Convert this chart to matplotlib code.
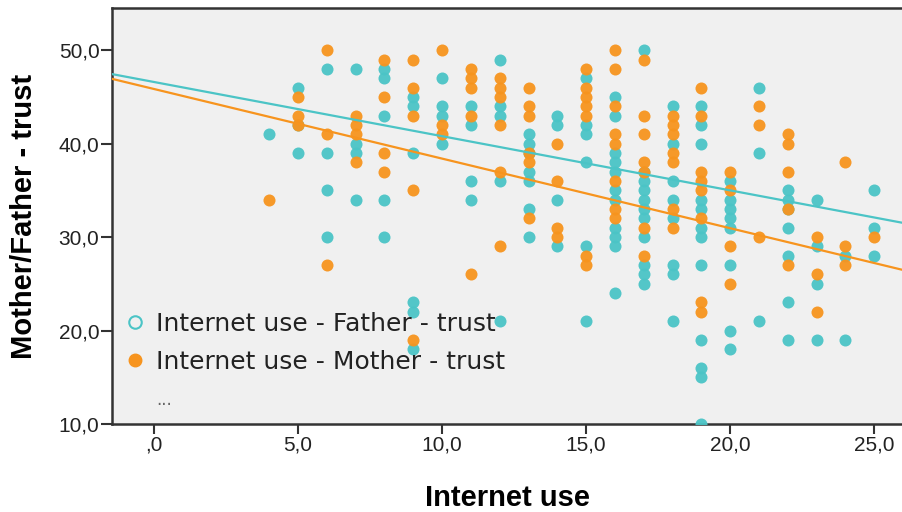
import numpy as np
import matplotlib.pyplot as plt
from matplotlib.lines import Line2D

# Internet use vs. trust in father / mother
father_use = ([4] + [5]*3 + [6]*4 + [7]*4 + [8]*5 + [9]*6 + [10]*4 + [11]*4 + [12]*5
              + [13]*7 + [14]*4 + [15]*6 + [16]*11 + [17]*11 + [18]*8 + [19]*12 + [20]*8
              + [21]*3 + [22]*7 + [23]*4 + [24]*2 + [25]*3)
father_trust = [41,
                46, 42, 39,
                48, 39, 35, 30,
                48, 40, 39, 34,
                48, 47, 43, 34, 30,
                45, 44, 39, 23, 22, 18,
                47, 44, 43, 40,
                44, 42, 36, 34,
                49, 44, 43, 36, 21,
                41, 40, 39, 37, 36, 33, 30,
                43, 42, 34, 29,
                47, 42, 41, 38, 29, 21,
                45, 43, 39, 38, 37, 35, 34, 31, 30, 29, 24,
                50, 37, 36, 35, 34, 33, 32, 30, 27, 26, 25,
                44, 40, 36, 34, 32, 27, 26, 21,
                44, 42, 40, 34, 33, 31, 30, 27, 19, 16, 15, 10,
                36, 34, 33, 32, 31, 27, 20, 18,
                46, 39, 21,
                35, 34, 33, 31, 28, 23, 19,
                34, 29, 25, 19,
                28, 19,
                35, 31, 28]

mother_use = ([4] + [5]*3 + [6]*3 + [7]*4 + [8]*4 + [9]*5 + [10]*3 + [11]*5 + [12]*6
              + [13]*6 + [14]*4 + [15]*7 + [16]*8 + [17]*7 + [18]*7 + [19]*8 + [20]*4
              + [21]*3 + [22]*5 + [23]*3 + [24]*3 + [25])
mother_trust = [34,
                45, 43, 42,
                50, 41, 27,
                43, 42, 41, 38,
                49, 45, 39, 37,
                49, 46, 43, 35, 19,
                50, 42, 41,
                48, 47, 46, 43, 26,
                47, 46, 45, 42, 37, 29,
                46, 44, 43, 39, 38, 32,
                40, 36, 31, 30,
                48, 46, 45, 44, 43, 28, 27,
                50, 48, 44, 41, 40, 36, 33, 32,
                49, 43, 41, 38, 37, 31, 28,
                43, 42, 41, 39, 38, 33, 31,
                46, 43, 37, 36, 35, 32, 23, 22,
                37, 35, 29, 25,
                44, 42, 30,
                41, 40, 37, 33, 27,
                30, 26, 22,
                38, 29, 27,
                30]

# fit lines (intercept, slope) for the full sample
father_fit = (46.6, -0.58)
mother_fit = (45.85, -0.745)

x_ticks = [0, 5, 10, 15, 20, 25]
y_ticks = [10, 20, 30, 40, 50]

cyan = "#4BC4C6"
orange = "#F7941E"


def comma_fmt(v):
    s = "%.1f" % v
    s = s.replace(".", ",")
    if s.startswith("0,"):
        s = s[1:]
    return s


fig = plt.figure(figsize=(9.03, 5.12), dpi=100)
ax = fig.add_axes([0.124, 0.172, 0.876, 0.812])
ax.set_facecolor("#F0F0F0")

ax.scatter(father_use, father_trust, s=75, color=cyan, alpha=0.95,
           linewidths=0, zorder=3)
ax.scatter(mother_use, mother_trust, s=75, color=orange, alpha=0.95,
           linewidths=0, zorder=3)

xmin, xmax = -1.46, 26.0
xs = np.array([xmin, xmax])
ax.plot(xs, father_fit[0] + father_fit[1] * xs, color=cyan, lw=1.6, zorder=4)
ax.plot(xs, mother_fit[0] + mother_fit[1] * xs, color=orange, lw=1.6, zorder=4)

ax.set_xlim(xmin, xmax)
ax.set_ylim(10, 54.5)

ax.set_xticks(x_ticks)
ax.set_xticklabels([comma_fmt(v) for v in x_ticks], fontsize=15,
                   family="Liberation Sans", color="#222222")
ax.set_yticks(y_ticks)
ax.set_yticklabels([comma_fmt(v) for v in y_ticks], fontsize=15,
                   family="Liberation Sans", color="#222222")
ax.tick_params(axis="x", length=7, width=1.5, color="#333333", pad=1.5)
ax.tick_params(axis="y", length=8, width=1.5, color="#333333", pad=1)

for side in ["left", "bottom", "top"]:
    ax.spines[side].set_linewidth(1.8)
    ax.spines[side].set_color("#333333")
ax.spines["right"].set_visible(False)

ax.set_xlabel("Internet use", fontsize=21, fontweight="bold",
              family="Liberation Sans")
ax.set_ylabel("Mother/Father - trust", fontsize=21, fontweight="bold",
              family="Liberation Sans")
ax.yaxis.set_label_coords(-0.094, 0.5)
ax.xaxis.set_label_coords(0.5, -0.145)

handles = [
    Line2D([], [], linestyle="none", marker="o", markersize=9,
           markerfacecolor="none", markeredgecolor=cyan, markeredgewidth=1.5),
    Line2D([], [], linestyle="none", marker="o", markersize=9,
           markerfacecolor=orange, markeredgecolor=orange),
    Line2D([], [], linestyle="none"),
]
leg = ax.legend(handles, ["Internet use - Father - trust",
                          "Internet use - Mother - trust", "..."],
                loc="lower left", bbox_to_anchor=(-0.004, 0.0), frameon=False,
                fontsize=18, handlelength=0.9, handletextpad=0.4,
                labelspacing=0.55, borderaxespad=0.2)
for t in leg.get_texts():
    t.set_color("#222222")
leg.get_texts()[2].set_color("#666666")
leg.get_texts()[2].set_fontsize(12)

fig.savefig("out.png", dpi=100)
